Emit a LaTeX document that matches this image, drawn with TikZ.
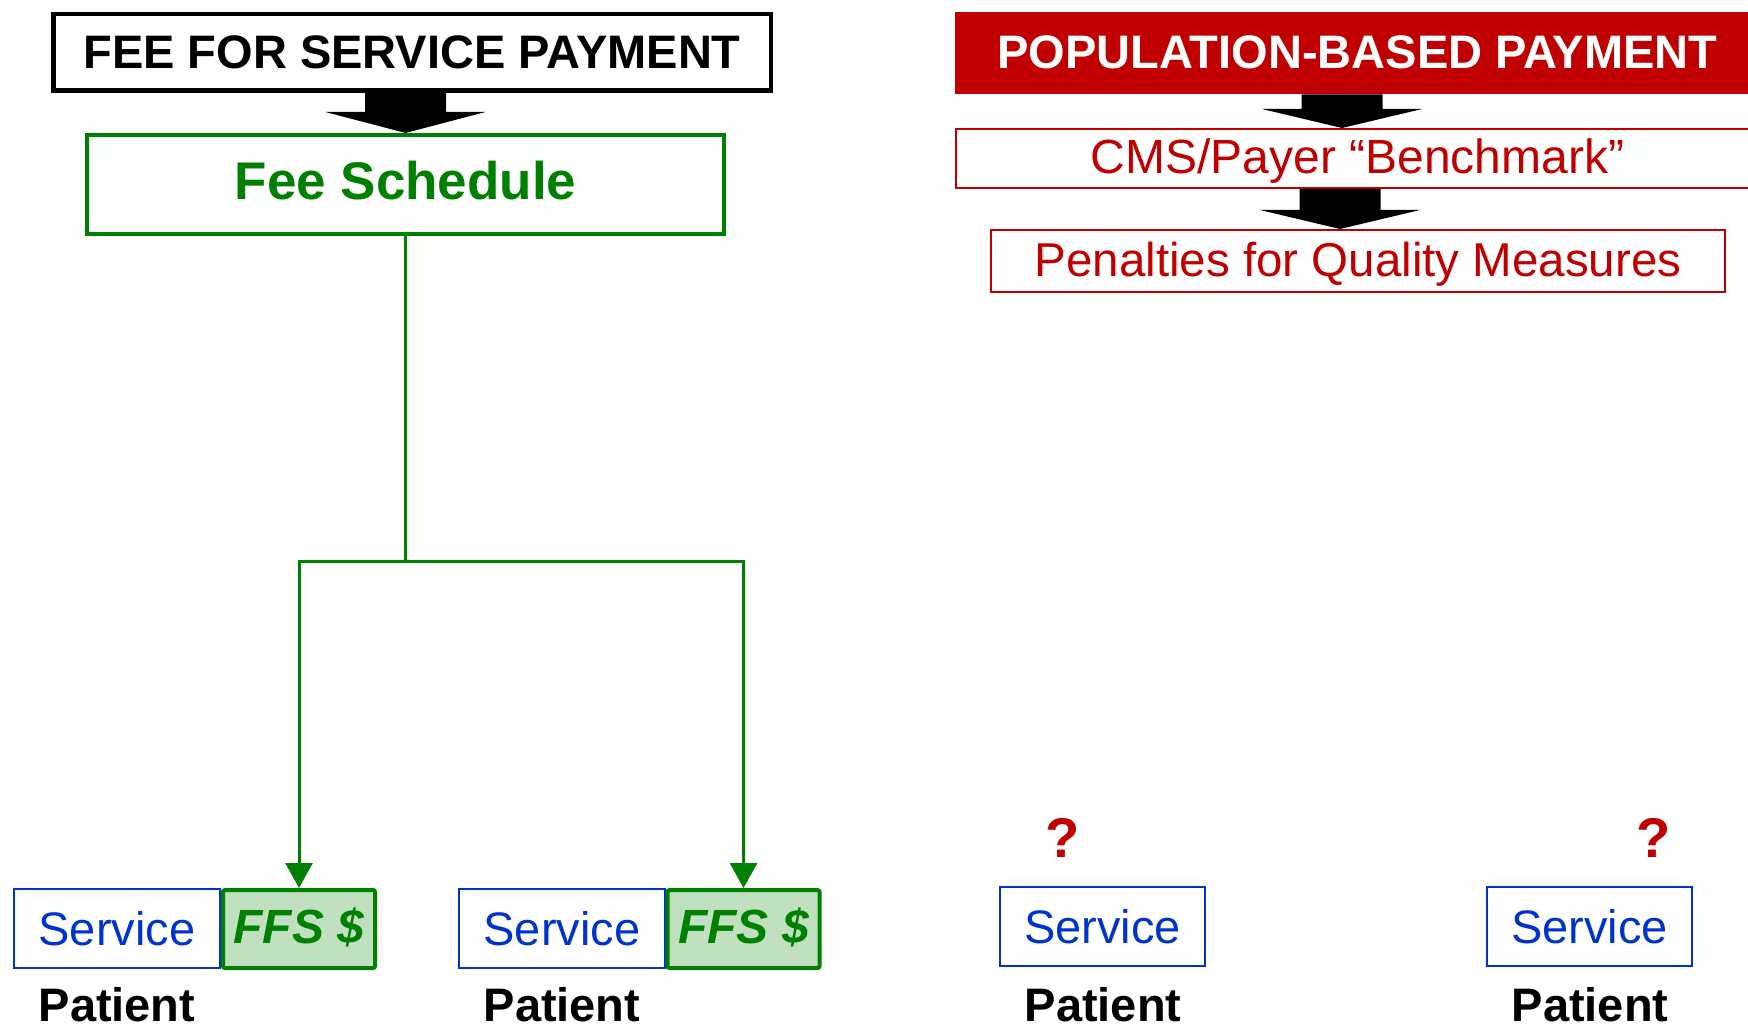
\documentclass[tikz,border=0pt]{standalone}
\usepackage{fontspec}
\setmainfont{Liberation Sans}
\usetikzlibrary{arrows.meta,calc}
\definecolor{ggreen}{RGB}{0,128,0}
\definecolor{lgreen}{RGB}{192,224,192}
\definecolor{sblue}{RGB}{0,51,204}
\definecolor{dred}{RGB}{192,0,0}
\newcommand\fsz[1]{\fontsize{#1}{#1}\selectfont}
% block arrow: #1 top point, #2 tip point, #3 head length
\newcommand\blockarr[3]{\fill[black] let \p1=#1, \p2=#2 in
  (\x2-20.25pt,\y1) -- (\x2+20.25pt,\y1) -- (\x2+20.25pt,\y2+#3) -- (\x2+40pt,\y2+#3)
  -- (\x2,\y2) -- (\x2-40pt,\y2+#3) -- (\x2-20.25pt,\y2+#3) -- cycle;}
\begin{document}
\begin{tikzpicture}[x=0.5pt,y=-0.5pt,
  box/.style={rectangle, inner sep=0pt, text depth=0pt, anchor=center},
  hdrl/.style={box, draw=black, line width=2.25pt, font=\fsz{23.5pt}\bfseries, text=black},
  fsbox/.style={box, draw=ggreen, line width=2pt, font=\fsz{26.5pt}\bfseries, text=ggreen},
  hdrr/.style={box, fill=dred, font=\fsz{23.5pt}\bfseries, text=white},
  redbox/.style={box, draw=dred, line width=1pt, text=dred},
  svc/.style={box, draw=sblue, line width=1pt, font=\fsz{23.5pt}, text=sblue,
    minimum width=103pt, minimum height=39.5pt, text height=16.5pt},
  ffs/.style={box, draw=ggreen, fill=lgreen, line width=2pt, rounded corners=1pt,
    font=\fsz{24pt}\bfseries\itshape, text=ggreen,
    minimum width=76pt, minimum height=39pt, text height=14.5pt},
  pat/.style={anchor=base, inner sep=0pt, font=\fsz{23.5pt}\bfseries, text=black},
  qm/.style={anchor=base, inner sep=0pt, font=\fsz{28pt}\bfseries, text=dred},
  gline/.style={draw=ggreen, line width=1.5pt},
  garrow/.style={gline, -{Triangle[width=13.5pt,length=12.5pt]}}
]
\useasboundingbox (0,0) rectangle (1748,1031);
\clip (0,0) rectangle (1748,1031);

% ---------- left: fee for service ----------
\node[hdrl, minimum width=358.75pt, minimum height=38.25pt, text height=16.5pt] (hdrL) at (412,52.5) {FEE FOR SERVICE PAYMENT};
\node[fsbox, minimum width=318.5pt, minimum height=49.5pt, text height=15.5pt] (fs) at (405.5,184.5) {Fee Schedule};
\blockarr{(hdrL.south)}{(fs.north)}{10.5pt}

\node[svc] (s1) at (117,928.5) {Service};
\node[ffs] (f1) at (299,929) {FFS \$};
\node[svc] (s2) at (562,928.5) {Service};
\node[ffs] (f2) at (743.5,929) {FFS \$};

\coordinate (jn) at (405.5,561);
\draw[gline] (fs.south) -- (jn);
\draw[garrow] (jn) -| (f1.north);
\draw[garrow] (jn) -| (f2.north);

\node[pat] (p1) at (117,1021) {Patient};
\node[pat] (p2) at (562,1021) {Patient};

% ---------- right: population-based ----------
\node[hdrr, minimum width=402.5pt, minimum height=41pt, text height=16pt] (hdrR) at (1357.5,53) {POPULATION-BASED PAYMENT};
\node[redbox, font=\fsz{24pt}, minimum width=401.5pt, minimum height=29.5pt, text height=15.5pt] (cms) at (1357.5,158.5) {CMS/Payer “Benchmark”};
\node[redbox, font=\fsz{23.75pt}, minimum width=367pt, minimum height=31pt, text height=16pt] (pen) at (1358,261) {Penalties for Quality Measures};
\coordinate (rt1) at ($(cms.north)+(-15.5,0)$);
\coordinate (rt2) at ($(pen.north)+(-18,0)$);
\blockarr{(hdrR.south)}{(rt1)}{9.5pt}
\blockarr{(cms.south)}{(rt2)}{9.5pt}

\node[svc, minimum width=102.5pt] (s3) at (1102.5,926.5) {Service};
\node[svc, minimum width=102.5pt] (s4) at (1589.5,926.5) {Service};
\node[qm] (q1) at (1063,857) {?};
\node[qm] (q2) at (1654,857) {?};
\node[pat] (p3) at (1103,1021) {Patient};
\node[pat] (p4) at (1590,1021) {Patient};
\end{tikzpicture}
\end{document}
